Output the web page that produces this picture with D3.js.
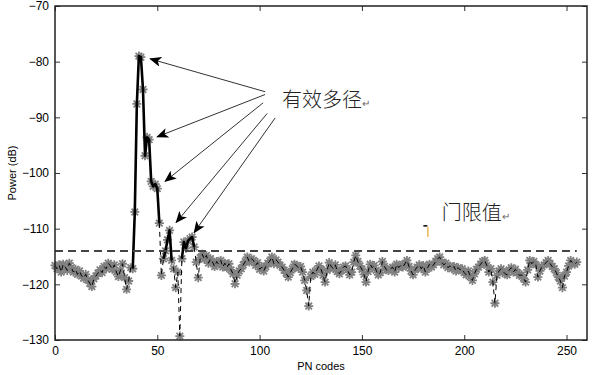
<!DOCTYPE html>
<html>
<head>
<meta charset="utf-8">
<script src="https://cdn.jsdelivr.net/npm/d3@7"></script>
<style>
  body { margin: 0; background: #fff; }
  svg { display: block; }
  .tick text { font-family: "Liberation Sans", Arial, sans-serif; font-size: 12px; fill: #000; }
  .label { font-family: "Liberation Sans", Arial, sans-serif; font-size: 11px; fill: #000; }
  .note { font-family: "Noto Sans CJK SC", sans-serif; font-size: 20px; fill: #222; font-weight: 300; }
</style>
</head>
<body>
<svg id="chart"></svg>
<script>
// received power per PN code offset (dB), index = PN code 0..255
var power = [
  -116.6, -117.2, -116.5, -117.8, -116.4, -116.9, -117.5, -116.2, -117.0, -117.8,
  -117.3, -118.2, -117.6, -118.5, -118.9, -118.2, -119.2, -119.8, -120.4, -119.0,
  -118.5, -118.0, -117.4, -117.9, -116.8, -117.2, -116.2, -116.6, -117.3, -116.5,
  -117.8, -118.6, -117.5, -116.3, -118.8, -120.9, -119.4, -117.0, -117.2, -107.0,
  -87.6, -79.0, -79.2, -85.0, -96.9, -93.6, -94.0, -101.5, -102.4, -102.0,
  -102.8, -109.0, -118.4, -115.4, -114.0, -112.0, -110.3, -115.7, -117.2, -120.6,
  -117.8, -129.3, -115.4, -112.4, -113.5, -112.2, -111.8, -111.5, -113.3, -116.0,
  -118.8, -115.2, -114.6, -115.5, -114.8, -116.2, -115.4, -116.0, -116.8, -115.9,
  -116.4, -115.7, -116.9, -116.2, -117.0, -116.3, -117.4, -118.1, -119.9, -118.4,
  -117.6, -117.2, -116.5, -115.9, -115.1, -116.0, -115.4, -115.7, -116.6, -116.1,
  -117.3, -116.9, -117.6, -116.8, -116.2, -115.8, -115.1, -116.3, -115.6, -116.0,
  -116.6, -116.9, -117.5, -118.0, -118.7, -117.9, -117.2, -116.4, -116.6, -117.1,
  -116.8, -117.8, -119.3, -121.1, -123.9, -118.6, -117.8, -118.2, -117.4, -116.7,
  -117.3, -118.4, -119.6, -117.5, -116.1, -116.8, -117.2, -116.5, -117.7, -118.1,
  -117.5, -116.9, -116.7, -117.4, -118.3, -117.8, -116.0, -114.8, -115.9, -116.7,
  -117.3, -118.2, -119.6, -117.7, -116.4, -117.0, -116.6, -117.5, -118.3, -117.9,
  -115.9, -116.8, -117.4, -117.5, -117.2, -116.9, -117.8, -116.4, -117.0, -116.6,
  -116.9, -116.3, -115.7, -116.8, -117.6, -118.3, -117.4, -116.9, -116.5, -117.2,
  -116.6, -117.8, -117.1, -116.4, -116.9, -116.5, -115.9, -115.4, -115.1, -116.0,
  -116.5, -116.2, -117.0, -116.7, -117.2, -116.8, -117.6, -117.0, -117.4, -117.2,
  -117.9, -118.3, -117.6, -118.6, -119.3, -118.1, -117.3, -116.9, -116.4, -115.9,
  -115.7, -116.6, -117.8, -117.2, -119.6, -123.4, -118.4, -117.6, -117.2, -117.7,
  -118.1, -118.3, -117.4, -117.0, -117.8, -117.3, -117.9, -118.4, -118.3, -118.9,
  -119.6, -117.4, -115.7, -116.3, -115.9, -116.5, -118.7, -117.6, -116.8, -116.5,
  -116.1, -115.7, -116.3, -116.8, -117.2, -117.9, -118.7, -119.4, -120.6, -118.5,
  -117.8, -116.7, -115.7, -116.2, -116.4, -116.0
]

// PN code ranges drawn with the thick solid line (the valid multipaths)
var solidRanges = [[38, 51], [53, 57], [62, 68]]

var threshold = -114
var thresholdEnd = 255

var xTicks = [0, 50, 100, 150, 200, 250]
var yTicks = [-130, -120, -110, -100, -90, -80, -70]

// arrows: [start PN, start dB, tip PN, tip dB]
var arrows = [
  [102.7, -85.4, 46.5, -79.5],
  [102.7, -85.9, 49.9, -93.5],
  [101.7, -87.4, 53.8, -101.5],
  [103.7, -89.3, 59.2, -108.9],
  [107.6, -90.1, 68.0, -110.7]
]
var pathLabel = {text: "有效多径", x: 111, y: -88.2}
var thresholdLabel = {text: "门限值", x: 189, y: -108.5}

var screen = {width: 596, height: 375}
var plot = {left: 55, right: 587, top: 6, bottom: 340}

var svg = d3.select("#chart")
  .attr("width", screen.width)
  .attr("height", screen.height)

var xScale = d3.scaleLinear().domain([0, 260]).range([plot.left, plot.right])
var yScale = d3.scaleLinear().domain([-130, -70]).range([plot.bottom, plot.top])

var points = power.map(function(v, i) { return {n: i, v: v} })

// markers first, lines drawn over them
var star = "M-4.5,0H4.5M0,-4.5V4.5M-3.3,-3.3L3.3,3.3M-3.3,3.3L3.3,-3.3"
svg.append("g")
  .selectAll("path")
  .data(points)
  .enter()
  .append("path")
  .attr("d", star)
  .attr("transform", function(d) { return "translate(" + xScale(d.n) + "," + yScale(d.v) + ")" })
  .attr("stroke", "#808080")
  .attr("stroke-width", 1.8)
  .attr("fill", "none")

var line = d3.line()
  .x(function(d) { return xScale(d.n) })
  .y(function(d) { return yScale(d.v) })

svg.append("path")
  .datum(points)
  .attr("d", line)
  .attr("fill", "none")
  .attr("stroke", "#000")
  .attr("stroke-width", 1)
  .attr("stroke-dasharray", "5,4")

solidRanges.forEach(function(r) {
  svg.append("path")
    .datum(points.slice(r[0], r[1] + 1))
    .attr("d", line)
    .attr("fill", "none")
    .attr("stroke", "#000")
    .attr("stroke-width", 2.6)
    .attr("stroke-linejoin", "round")
})

// threshold
svg.append("line")
  .attr("x1", xScale(0))
  .attr("x2", xScale(thresholdEnd))
  .attr("y1", yScale(threshold))
  .attr("y2", yScale(threshold))
  .attr("stroke", "#444")
  .attr("stroke-width", 2)
  .attr("stroke-dasharray", "8,5")

// axes, MATLAB style box with inward ticks
var axes = svg.append("g")
axes.append("g")
  .attr("transform", "translate(0," + plot.bottom + ")")
  .call(d3.axisBottom(xScale).tickValues(xTicks).tickSize(-5).tickPadding(6))
axes.append("g")
  .attr("transform", "translate(0," + plot.top + ")")
  .call(d3.axisTop(xScale).tickValues(xTicks).tickSize(-5).tickFormat(""))
axes.append("g")
  .attr("transform", "translate(" + plot.left + ",0)")
  .call(d3.axisLeft(yScale).tickValues(yTicks).tickSize(-5).tickPadding(6))
axes.append("g")
  .attr("transform", "translate(" + plot.right + ",0)")
  .call(d3.axisRight(yScale).tickValues(yTicks).tickSize(-5).tickFormat(""))
axes.selectAll(".domain").remove()
axes.selectAll(".tick line").attr("stroke", "#333")

svg.append("rect")
  .attr("x", plot.left)
  .attr("y", plot.top)
  .attr("width", plot.right - plot.left)
  .attr("height", plot.bottom - plot.top)
  .attr("fill", "none")
  .attr("stroke", "#222")
  .attr("stroke-width", 1.5)

// labels
svg.append("text")
  .attr("class", "label")
  .attr("text-anchor", "middle")
  .attr("x", (plot.left + plot.right) / 2)
  .attr("y", 370)
  .text("PN codes")

svg.append("text")
  .attr("class", "label")
  .attr("text-anchor", "middle")
  .attr("transform", "translate(16," + ((plot.top + plot.bottom) / 2) + ") rotate(-90)")
  .text("Power (dB)")

// annotation arrows
var defs = svg.append("defs")
defs.append("marker")
  .attr("id", "head")
  .attr("viewBox", "0 0 12 10")
  .attr("refX", 11)
  .attr("refY", 5)
  .attr("markerWidth", 12)
  .attr("markerHeight", 10)
  .attr("markerUnits", "userSpaceOnUse")
  .attr("orient", "auto")
  .append("path")
  .attr("d", "M0,0L12,5L0,10L3,5Z")
  .attr("fill", "#000")

svg.append("g")
  .selectAll("line")
  .data(arrows)
  .enter()
  .append("line")
  .attr("x1", function(d) { return xScale(d[0]) })
  .attr("y1", function(d) { return yScale(d[1]) })
  .attr("x2", function(d) { return xScale(d[2]) })
  .attr("y2", function(d) { return yScale(d[3]) })
  .attr("stroke", "#333")
  .attr("stroke-width", 1)
  .attr("marker-end", "url(#head)")

var addNote = function(note) {
  var t = svg.append("text")
    .attr("class", "note")
    .attr("x", xScale(note.x))
    .attr("y", yScale(note.y))
  t.append("tspan").text(note.text)
  t.append("tspan")
    .attr("font-size", "10px")
    .attr("fill", "#666")
    .text("↵")
}
addNote(pathLabel)
addNote(thresholdLabel)

// small cursor marks left of the threshold label
var markX = xScale(181.5)
var markY = yScale(-109.5)
svg.append("line")
  .attr("x1", markX - 3).attr("x2", markX + 1)
  .attr("y1", markY).attr("y2", markY)
  .attr("stroke", "#000").attr("stroke-width", 1.5)
svg.append("line")
  .attr("x1", markX + 1.5).attr("x2", markX + 1.5)
  .attr("y1", markY + 1).attr("y2", markY + 11)
  .attr("stroke", "#e8a820").attr("stroke-width", 1.2)
</script>
</body>
</html>
